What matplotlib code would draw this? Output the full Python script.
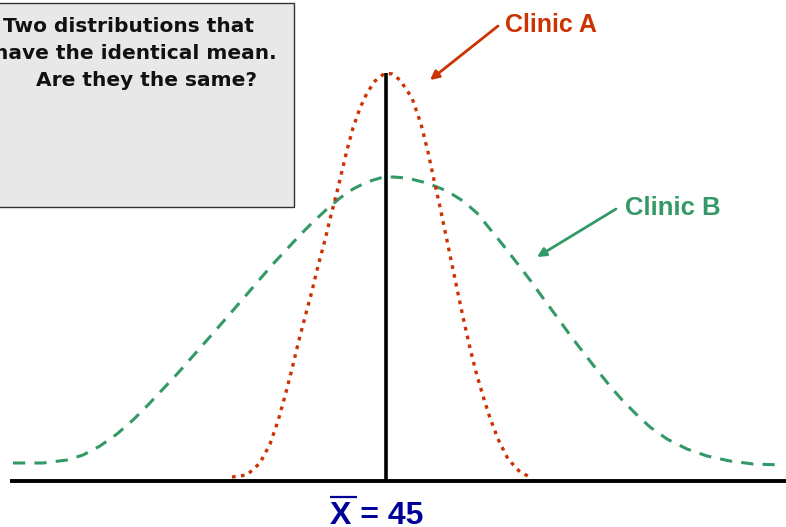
import matplotlib
matplotlib.use("Agg")
import matplotlib.pyplot as plt
from matplotlib.patches import Rectangle

# score axis (mean = 45) and relative frequency
clinic_a_x = [29.6, 31.1, 32.4, 33.4, 34.2, 34.9, 35.6, 36.2, 36.9, 37.6, 38.2,
              38.9, 39.5, 40.1, 40.6, 41.1, 41.7, 42.4, 43.1, 43.9, 44.9, 45.6,
              46.4, 47.6, 48.5, 49.2, 49.8, 50.4, 50.9, 51.4, 51.9, 52.4, 52.9,
              53.4, 54.0, 54.7, 55.4, 56.2, 57.2, 58.4, 59.4]
clinic_a_y = [0.4, 0.6, 1.8, 3.7, 6.0, 8.5, 11.2, 13.7, 16.4, 19.0, 21.5,
              24.1, 26.6, 28.9, 31.0, 33.1, 35.3, 37.3, 38.8, 40.0, 40.8, 40.7,
              40.1, 38.3, 35.7, 32.9, 30.1, 27.4, 25.0, 22.6, 20.2, 17.8, 15.5,
              13.3, 10.9, 8.5, 6.3, 4.2, 2.2, 0.9, 0.4]

clinic_b_x = [7.7, 10.7, 13.1, 14.7, 16.4, 18.1, 19.7, 21.2, 22.7, 24.2, 25.7,
              27.2, 28.6, 29.9, 31.2, 32.4, 33.7, 35.1, 36.4, 37.7, 39.1, 40.4,
              41.7, 43.1, 44.4, 45.7, 47.1, 49.1, 51.1, 52.7, 54.1, 55.4, 56.7,
              58.1, 59.4, 60.7, 62.1, 63.4, 64.7, 66.1, 67.4, 68.7, 70.1, 71.4,
              73.1, 75.1, 77.1, 79.4, 81.7, 84.7]
clinic_b_y = [1.8, 1.8, 2.1, 2.6, 3.5, 4.7, 6.1, 7.6, 9.2, 10.8, 12.5,
              14.2, 15.8, 17.3, 18.8, 20.2, 21.7, 23.2, 24.6, 25.9, 27.2, 28.3,
              29.2, 29.9, 30.3, 30.4, 30.3, 29.8, 29.0, 28.0, 26.8, 25.2, 23.6,
              21.8, 20.1, 18.3, 16.4, 14.6, 12.9, 11.1, 9.5, 8.0, 6.6, 5.4,
              4.2, 3.2, 2.5, 2.0, 1.7, 1.6]

mean_value = 45
box_lines = ["Two distributions that", "have the identical mean.", "Are they the same?"]

RED = "#cc3300"
GREEN = "#339966"
NAVY = "#000099"


def px(x, y):
    # pixel position on the 786x527 canvas -> data coordinates
    return x / 10 + 6.4, (481 - y) / 10


fig = plt.figure(figsize=(7.86, 5.27), dpi=100)
ax = fig.add_axes([0, 0, 1, 1])
ax.set_xlim(6.4, 85.0)
ax.set_ylim(-4.6, 48.1)
ax.axis("off")

# question box, running off the left edge
x0, y0 = px(-5, 207)
x1, y1 = px(294, 3)
ax.add_patch(Rectangle((x0, y0), x1 - x0, y1 - y0, facecolor="#e8e8e8",
                       edgecolor="#333333", linewidth=1.0, zorder=1))
for txt, (bx, by), ha in zip(box_lines, [(3, 32), (277, 59), (146, 86)],
                             ["left", "right", "center"]):
    ax.text(*px(bx, by), txt, ha=ha, va="baseline", fontsize=14.5,
            weight="bold", color="#111111", family="DejaVu Sans", zorder=2)

# curves
ax.plot(clinic_b_x, clinic_b_y, color=GREEN, linewidth=2.2,
        linestyle=(0, (4, 3)), zorder=3)
ax.plot(clinic_a_x, clinic_a_y, color=RED, linewidth=2.4,
        linestyle=(0, (1.1, 1.6)), zorder=4)

# baseline and mean line
ax.plot([px(10, 0)[0], 85.0], [0, 0], color="black", linewidth=2.8,
        solid_capstyle="butt", zorder=5)
ax.plot([mean_value, mean_value], [0, max(clinic_a_y)], color="black",
        linewidth=2.6, solid_capstyle="butt", zorder=5)

# labels with arrows
ax.text(*px(505, 32), "Clinic A", ha="left", va="baseline", fontsize=18,
        weight="bold", color=RED, family="Liberation Sans")
ax.annotate("", xy=px(430, 80), xytext=px(498, 26),
            arrowprops=dict(arrowstyle="-|>", color=RED, lw=2.0,
                            mutation_scale=13, shrinkA=0, shrinkB=0))
ax.text(*px(625, 215), "Clinic B", ha="left", va="baseline", fontsize=18.5,
        weight="bold", color=GREEN, family="Liberation Sans")
ax.annotate("", xy=px(537, 257), xytext=px(616, 209),
            arrowprops=dict(arrowstyle="-|>", color=GREEN, lw=2.0,
                            mutation_scale=13, shrinkA=0, shrinkB=0))

# x-bar label
ax.text(*px(330, 524), f"X = {mean_value}", ha="left", va="baseline",
        fontsize=23, weight="bold", color=NAVY, family="Liberation Sans")
ax.plot([px(330, 0)[0], px(357, 0)[0]], [px(0, 497)[1]] * 2, color=NAVY,
        linewidth=1.6, solid_capstyle="butt")

fig.savefig("out.png", dpi=100, facecolor="white")
